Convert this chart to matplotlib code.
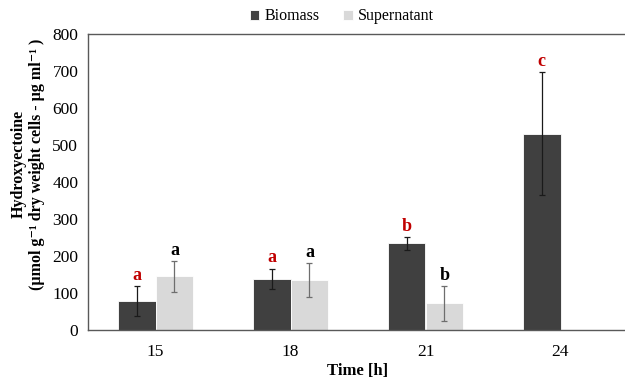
import matplotlib.pyplot as plt
import numpy as np

plt.rcParams["font.family"] = ["Liberation Serif", "DejaVu Serif"]

times = ["15", "18", "21", "24"]
biomass = [79, 138, 234, 530]
biomass_err = [40, 28, 18, 166]
supernatant = [145, 135, 72, 0]
supernatant_err = [42, 46, 47, 0]
biomass_letters = ["a", "a", "b", "c"]
supernatant_letters = ["a", "a", "b", ""]

DARK = "#404040"
LIGHT = "#d9d9d9"
RED = "#c00000"

fig = plt.figure(figsize=(6.25, 3.81), dpi=100)
ax = fig.add_axes([0.1408, 0.1339, 0.864, 0.7769])

x = np.arange(len(times))
w = 0.28
ax.bar(x - w / 2, biomass, w, color=DARK, edgecolor="white", linewidth=0.6, label="Biomass")
ax.bar(x + w / 2, supernatant, w, color=LIGHT, edgecolor="white", linewidth=0.6, label="Supernatant")

ax.errorbar(x - w / 2, biomass, yerr=biomass_err, fmt="none", ecolor="#1a1a1a",
            elinewidth=0.9, capsize=2, capthick=0.9)
sx = [xi + w / 2 for xi, v in zip(x, supernatant) if v > 0]
sv = [v for v in supernatant if v > 0]
se = [e for e, v in zip(supernatant_err, supernatant) if v > 0]
ax.errorbar(sx, sv, yerr=se, fmt="none", ecolor="#6e6e6e",
            elinewidth=0.9, capsize=2, capthick=0.9)

for xi, v, e, t in zip(x, biomass, biomass_err, biomass_letters):
    ax.text(xi - w / 2, v + e + 6, t, color=RED, fontsize=13, fontweight="bold",
            ha="center", va="bottom")
for xi, v, e, t in zip(x, supernatant, supernatant_err, supernatant_letters):
    if t:
        ax.text(xi + w / 2, v + e + 6, t, color="black", fontsize=13, fontweight="bold",
                ha="center", va="bottom")

ax.set_xlim(-0.5, 3.5)
ax.set_ylim(0, 800)
ax.set_yticks(range(0, 801, 100))
ax.set_xticks(x)
ax.set_xticklabels(times)
ax.tick_params(axis="both", length=0, labelsize=12.5)
ax.tick_params(axis="y", pad=7)
ax.tick_params(axis="x", pad=10)

for side in ("left", "bottom", "top"):
    ax.spines[side].set_color("#595959")
    ax.spines[side].set_linewidth(1.0)
ax.spines["right"].set_visible(False)

ax.set_xlabel("Time [h]", fontsize=12, fontweight="bold", labelpad=2)
ax.set_ylabel("Hydroxyectoine\n(µmol g⁻¹ dry weight cells - µg ml⁻¹ )",
              fontsize=11.5, fontweight="bold", linespacing=1.15)
ax.yaxis.set_label_coords(-0.08, 0.56)

ax.legend(loc="lower center", bbox_to_anchor=(0.47, 1.0), ncol=2, frameon=False,
          fontsize=11.5, handlelength=0.6, handleheight=0.6, handletextpad=0.3,
          columnspacing=1.5, borderaxespad=0.2)

fig.savefig("out.png", dpi=100)
